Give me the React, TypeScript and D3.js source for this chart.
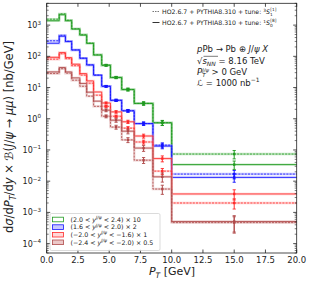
import React from "react";
import * as d3 from "d3";

const binEdges = [0, 1, 1.5, 2, 2.65, 3.2, 3.75, 4.4, 5.1, 6, 7, 8.5, 10, 20];

const greenSolid = [1380, 2150, 1380, 750, 480, 260, 110, 52, 21, 8.7, 3.1, 0.74, 0.034];
const greenDashed = [1550, 2300, 1430, 760, 490, 265, 112, 52, 21, 8.6, 3.1, 0.75, 0.074];
const blueSolid = [262, 440, 297, 160, 87, 53, 25, 11, 3.9, 1.8, 0.7, 0.133, 0.0132];
const blueDashed = [315, 473, 304, 160, 87, 53, 25, 11, 3.9, 1.8, 0.7, 0.143, 0.0169];
const redSolid = [93, 132, 91, 56, 28, 16.3, 7.2, 3.2, 1.66, 0.8, 0.28, 0.053, 0.0039];
const redDashed = [81, 121, 84, 50, 25, 13.8, 5.7, 2.5, 1.2, 0.5, 0.18, 0.021, 0.002];
const brownSolid = [31.7, 43.8, 31.7, 20.4, 13.5, 7.1, 3.66, 1.88, 0.9, 0.4, 0.115, 0.0138, 0.00051];
const brownDashed = [28.1, 40.1, 28.8, 17.2, 11, 5.3, 2.5, 1.2, 0.54, 0.21, 0.047, 0.0056, 0.00047];

const relErrors = [0.03, 0.03, 0.03, 0.04, 0.04, 0.05, 0.05, 0.06, 0.08, 0.1, 0.12, 0.18, 0.3];
const pointBins = [7, 8, 9, 10, 11, 12];

const xTicks = [0, 2.5, 5, 7.5, 10, 12.5, 15, 17.5, 20];
const yDecades = [-4, -3, -2, -1, 0, 1, 2, 3];

const rapLo = ["2.0", "1.6", "\u22122.0", "\u22122.4"];
const rapHi = ["2.4", "2.0", "\u22121.6", "\u22122.0"];
const rapFactor = ["10", "2", "1", "0.5"];

const series = [
  { solid: greenSolid, dashed: greenDashed, color: "#1f9a1f", band: "#7cc87c", fill: "#ffffff", errScale: 1 },
  { solid: blueSolid, dashed: blueDashed, color: "#1414ff", band: "#8c8cff", fill: "#c8c8ff", errScale: 1 },
  { solid: redSolid, dashed: redDashed, color: "#ff2a2a", band: "#ff9a9a", fill: "#ffd8d8", errScale: 1.2 },
  { solid: brownSolid, dashed: brownDashed, color: "#b04a4a", band: "#d49a9a", fill: "#ecc8c8", errScale: 1.8 },
];

const W = 311;
const H = 282;
const L = 46.7;
const R = 296.7;
const T = 3.3;
const B = 253;
const FONT = "DejaVu Sans, sans-serif";

export default function App() {
  const x = d3.scaleLinear().domain([0, 20]).range([L, R]);
  const y = d3.scaleLog().domain([5e-5, 5e3]).range([B, T]);

  const stepLine = d3
    .line<[number, number]>()
    .x((d) => x(d[0]))
    .y((d) => y(d[1]))
    .curve(d3.curveStepAfter);

  const pts = (vals: number[]): [number, number][] => {
    const p: [number, number][] = vals.map((v, i) => [binEdges[i], v]);
    p.push([binEdges[binEdges.length - 1], vals[vals.length - 1]]);
    return p;
  };

  const minorTicks: number[] = [];
  for (let e = -5; e <= 3; e++) {
    for (let m = 2; m <= 9; m++) {
      const v = m * Math.pow(10, e);
      if (v >= 5e-5 && v <= 5e3) minorTicks.push(v);
    }
  }

  const center = (i: number) => (binEdges[i] + binEdges[i + 1]) / 2;

  const errBar = (v: number, i: number, e: number, color: string, key: string) => {
    const cx = x(center(i));
    const y1 = y(v * (1 + e));
    const y0 = y(Math.max(v * (1 - e), 1e-6));
    return (
      <g key={key}>
        <line x1={cx} x2={cx} y1={y0} y2={y1} stroke={color} strokeWidth={1} />
        <line x1={cx - 1.6} x2={cx + 1.6} y1={y0} y2={y0} stroke={color} strokeWidth={0.9} />
        <line x1={cx - 1.6} x2={cx + 1.6} y1={y1} y2={y1} stroke={color} strokeWidth={0.9} />
        <rect x={cx - 1.2} y={y(v) - 1.2} width={2.4} height={2.4} fill={color} />
      </g>
    );
  };

  return (
    <svg
      width={W}
      height={H}
      style={{ position: "absolute", left: 0, top: 0, background: "#fff" }}
      fontFamily={FONT}
    >
      {/* series */}
      {series.map((s, k) => (
        <g key={"s" + k}>
          <path d={stepLine(pts(s.dashed)) || ""} fill="none" stroke={s.band} strokeOpacity={0.45} strokeWidth={2.4} />
          <path d={stepLine(pts(s.solid)) || ""} fill="none" stroke={s.band} strokeOpacity={0.45} strokeWidth={2.4} />
          <path d={stepLine(pts(s.dashed)) || ""} fill="none" stroke={s.color} strokeWidth={0.85} strokeDasharray="2,1.2" />
          <path d={stepLine(pts(s.solid)) || ""} fill="none" stroke={s.color} strokeWidth={0.85} />
          {pointBins.map((i) => errBar(s.dashed[i], i, relErrors[i] * s.errScale, s.color, "d" + i))}
          {pointBins.map((i) => errBar(s.solid[i], i, relErrors[i] * s.errScale, s.color, "p" + i))}
        </g>
      ))}

      {/* frame */}
      <rect x={L} y={T} width={R - L} height={B - T} fill="none" stroke="#222" strokeWidth={0.8} />

      {/* x ticks */}
      {xTicks.map((t) => (
        <g key={"xt" + t}>
          <line x1={x(t)} x2={x(t)} y1={B} y2={B - 3.5} stroke="#222" strokeWidth={0.8} />
          <line x1={x(t)} x2={x(t)} y1={T} y2={T + 3.5} stroke="#222" strokeWidth={0.8} />
          <text x={x(t)} y={263} fontSize={8.5} textAnchor="middle" fill="#222">
            {t.toFixed(1)}
          </text>
        </g>
      ))}

      {/* y ticks */}
      {yDecades.map((e) => {
        const yy = y(Math.pow(10, e));
        return (
          <g key={"yt" + e}>
            <line x1={L} x2={L + 3.5} y1={yy} y2={yy} stroke="#222" strokeWidth={0.8} />
            <line x1={R} x2={R - 3.5} y1={yy} y2={yy} stroke="#222" strokeWidth={0.8} />
            <text x={41} y={yy + 3} fontSize={8} textAnchor="end" fill="#222">
              10
              <tspan fontSize={5.6} dy={-3.6}>
                {e < 0 ? "\u2212" + Math.abs(e) : String(e)}
              </tspan>
            </text>
          </g>
        );
      })}
      {minorTicks.map((v, i) => (
        <g key={"mt" + i}>
          <line x1={L} x2={L + 2} y1={y(v)} y2={y(v)} stroke="#222" strokeWidth={0.6} />
          <line x1={R} x2={R - 2} y1={y(v)} y2={y(v)} stroke="#222" strokeWidth={0.6} />
        </g>
      ))}

      {/* axis labels */}
      <text x={172} y={275} fontSize={11} textAnchor="middle" fill="#222">
        <tspan fontStyle="italic">P</tspan>
        <tspan fontStyle="italic" fontSize={7.5} dy={2.5}>T</tspan>
        <tspan dy={-2.5}> [GeV]</tspan>
      </text>
      <text transform="translate(13,137) rotate(-90)" fontSize={11.5} textAnchor="middle" fill="#222">
        d<tspan fontStyle="italic">σ</tspan>/d<tspan fontStyle="italic">P</tspan>
        <tspan fontStyle="italic" fontSize={8} dy={2.5}>T</tspan>
        <tspan dy={-2.5}>/d</tspan>
        <tspan fontStyle="italic">y</tspan> × <tspan fontStyle="italic">ℬ</tspan>(
        <tspan fontStyle="italic">J</tspan>/<tspan fontStyle="italic">ψ</tspan> → <tspan fontStyle="italic">μμ</tspan>) [nb/GeV]
      </text>

      {/* top legend */}
      <line x1={152.5} x2={159.5} y1={11.5} y2={11.5} stroke="#777" strokeWidth={1} strokeDasharray="1.5,1" />
      <line x1={152.5} x2={159.5} y1={22.5} y2={22.5} stroke="#333" strokeWidth={1} />
      {["1", "8"].map((c, k) => (
        <text key={"tl" + k} x={162} y={14 + k * 11} fontSize={6.2} fill="#222">
          HO2.6.7 + PYTHIA8.310 + tune:{" "}
          <tspan fontSize={4.3} dy={-2.5}>{k === 0 ? "3" : "1"}</tspan>
          <tspan fontStyle="italic" dy={2.5}>S</tspan>
          <tspan fontSize={4.3} dy={1.5}>{k === 0 ? "1" : "0"}</tspan>
          <tspan fontSize={4.3} dx={-2.4} dy={-5}>[{c}]</tspan>
        </text>
      ))}

      {/* annotation */}
      <g fontSize={8.5} fill="#222">
        <text x={197} y={52}>
          <tspan fontStyle="italic">p</tspan>Pb → Pb ⊕ <tspan fontStyle="italic">J</tspan>/<tspan fontStyle="italic">ψ X</tspan>
        </text>
        <text x={197} y={64}>
          √<tspan fontStyle="italic">s</tspan>
          <tspan fontStyle="italic" fontSize={6} dy={1.8}>NN</tspan>
          <tspan dy={-1.8}> = 8.16 TeV</tspan>
        </text>
        <line x1={203.5} x2={218} y1={56.3} y2={56.3} stroke="#222" strokeWidth={0.6} />
        <text x={197} y={75}>
          <tspan fontStyle="italic">P</tspan>
          <tspan fontStyle="italic" fontSize={5.6} dy={1.6}>T</tspan>
          <tspan fontStyle="italic" fontSize={5.2} dx={-3.4} dy={-4.4}>J/ψ</tspan>
          <tspan dy={2.8}> &gt; 0 GeV</tspan>
        </text>
        <text x={197} y={85.5}>
          <tspan fontStyle="italic">ℒ</tspan> = 1000 nb
          <tspan fontSize={6} dy={-3.4}>−1</tspan>
        </text>
      </g>

      {/* bottom legend */}
      <rect x={50} y={213.5} width={110} height={37} fill="#fff" fillOpacity={0.85} stroke="#ccc" strokeWidth={0.7} rx={1.5} />
      {series.map((s, k) => {
        const yy = 219.5 + k * 7.6;
        return (
          <g key={"lg" + k}>
            <rect x={52.5} y={yy - 2.3} width={11} height={4.6} fill={s.fill} stroke={s.color} strokeWidth={0.8} />
            <text x={70.5} y={yy + 2.2} fontSize={6.3} fill="#222">
              ({rapLo[k]} &lt; <tspan fontStyle="italic">y</tspan>
              <tspan fontSize={4.4} dy={-2.6} fontStyle="italic">J/ψ</tspan>
              <tspan dy={2.6}> &lt; {rapHi[k]}) × {rapFactor[k]}</tspan>
            </text>
          </g>
        );
      })}
    </svg>
  );
}
